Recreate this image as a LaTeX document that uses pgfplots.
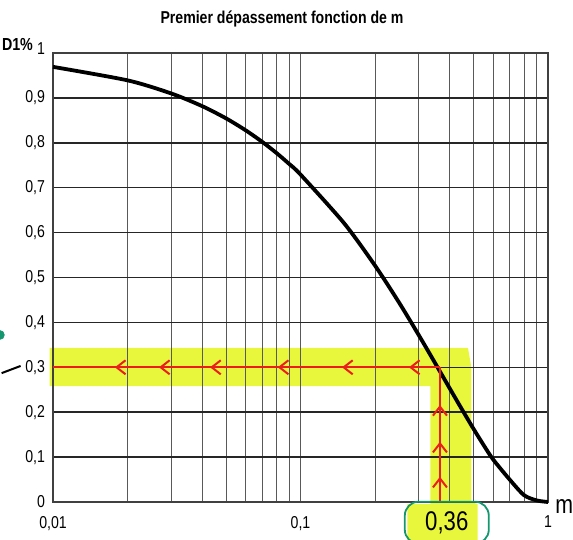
\documentclass[border=0pt]{standalone}
\usepackage{fontspec}
\setmainfont{Liberation Sans}[FakeStretch=0.82]
\usepackage{pgfplots}
\pgfplotsset{compat=1.18}
\usetikzlibrary{decorations.markings,arrows.meta}
\definecolor{hl}{RGB}{232,246,60}
\definecolor{redpen}{RGB}{235,30,30}
\definecolor{greenpen}{RGB}{20,150,110}
\begin{document}
\begin{tikzpicture}
\begin{axis}[
  set layers,
  scale only axis, width=247.5pt, height=224.5pt,
  xmode=log, xmin=0.01, xmax=1, ymin=0, ymax=1,
  clip=false,
  xtick={0.01,0.1,1}, xticklabels={{0,01},{0,1},{1}},
  minor xtick={0.02,0.03,0.04,0.05,0.06,0.07,0.08,0.09,0.2,0.3,0.4,0.5,0.6,0.7,0.8,0.9},
  ytick={0,0.1,0.2,0.3,0.4,0.5,0.6,0.7,0.8,0.9,1},
  yticklabels={0,{0,1},{0,2},{0,3},{0,4},{0,5},{0,6},{0,7},{0,8},{0,9},\raisebox{4pt}{1}},
  grid=both,
  tick style={draw=none},
  major tick length=0pt, minor tick length=0pt,
  major x grid style={black!65, line width=0.45pt},
  minor x grid style={black!65, line width=0.45pt},
  major y grid style={black!85, line width=0.75pt},
  axis line style={black!75, line width=0.6pt},
  ticklabel style={font=\fontsize{8.6}{9}\selectfont},
  xticklabel style={yshift=-3.5pt},
  yticklabel style={xshift=-0.5pt},
]
% highlighter
\addplot[on layer=axis background, fill=hl, draw=none] coordinates {
  (0.0097,0.343) (0.475,0.343) (0.49,0.30) (0.49,0.0) (0.52,-0.005) (0.52,-0.09)
  (0.27,-0.09) (0.27,-0.005) (0.335,-0.005) (0.335,0.258) (0.0097,0.258)};
% curve
\addplot[black, line width=1.9pt, line join=round, smooth, tension=0.45] coordinates {
  (0.01,0.9691) (0.02,0.9391) (0.03,0.9100) (0.04,0.8818) (0.05,0.8545)
  (0.06,0.8279) (0.07,0.8022) (0.08,0.7772) (0.09,0.7529) (0.1,0.7293)
  (0.15,0.6209) (0.2,0.5266) (0.25,0.4444) (0.3,0.3723) (0.35,0.3092)
  (0.4,0.2538) (0.45,0.2054) (0.5,0.1630) (0.55,0.1263) (0.6,0.0948)
  (0.7,0.050) (0.8,0.0152) (0.9,0.0035) (1,0.0)};
% red pen lines
\addplot[redpen, line width=1pt, postaction={decorate}, decoration={markings,
  mark=at position 0.08 with {\arrow{Straight Barb[length=4.5pt,width=7pt]}},
  mark=at position 0.253 with {\arrow{Straight Barb[length=4.5pt,width=7pt]}},
  mark=at position 0.419 with {\arrow{Straight Barb[length=4.5pt,width=7pt]}},
  mark=at position 0.594 with {\arrow{Straight Barb[length=4.5pt,width=7pt]}},
  mark=at position 0.726 with {\arrow{Straight Barb[length=4.5pt,width=7pt]}},
  mark=at position 0.84 with {\arrow{Straight Barb[length=4.5pt,width=7pt]}}}]
  coordinates {(0.366,0.3) (0.01,0.3)};
\addplot[redpen, line width=1pt, postaction={decorate}, decoration={markings,
  mark=at position 0.187 with {\arrow{Straight Barb[length=4.5pt,width=7pt]}},
  mark=at position 0.447 with {\arrow{Straight Barb[length=4.5pt,width=7pt]}},
  mark=at position 0.72 with {\arrow{Straight Barb[length=4.5pt,width=7pt]}}}]
  coordinates {(0.366,0) (0.366,0.3)};
% left pen marks
\addplot[black, line width=1pt] coordinates {(0.0062,0.287) (0.0074,0.303)};
\addplot[only marks, mark=*, mark size=2.2pt, greenpen] coordinates {(0.0061,0.372)};
% texts
\node[anchor=base, xshift=-9.25pt, yshift=14.5pt, font=\fontsize{8.6}{10}\selectfont\bfseries]
  at (rel axis cs:0.5,1) {Premier dépassement fonction de m};
\node[anchor=east, xshift=-6.5pt, yshift=4pt, font=\fontsize{8.7}{10}\selectfont\bfseries]
  at (rel axis cs:0,1) {D1\%};
\node[anchor=west, inner sep=0pt, xshift=3.5pt, yshift=-2.5pt, font=\fontsize{13}{14}\selectfont]
  at (rel axis cs:1,0) {m};
\node[draw=greenpen, line width=0.9pt, rounded corners=7pt, minimum width=42pt, minimum height=21pt,
  font=\fontsize{13.5}{14}\selectfont] at (axis cs:0.39,-0.046) {0,36};
\end{axis}
\pgfresetboundingbox
\path[use as bounding box] (-26.5pt,-19pt) rectangle (260pt,251pt);
\end{tikzpicture}
\end{document}
